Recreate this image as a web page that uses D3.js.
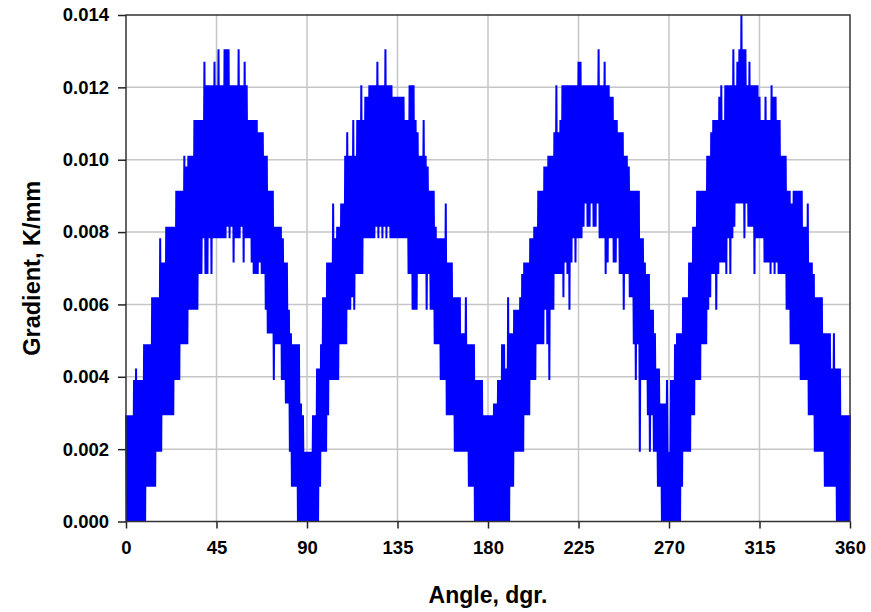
<!DOCTYPE html>
<html><head><meta charset="utf-8">
<script src="https://cdn.jsdelivr.net/npm/d3@7"></script>
<style>
html,body{margin:0;padding:0;background:#fff;}
svg{display:block;font-family:"Liberation Sans",Arial,sans-serif;font-weight:bold;}
</style>
</head><body>
<svg id="chart" width="871" height="612"></svg>
<script>
// ---------- data ----------
const xTicks = [0, 45, 90, 135, 180, 225, 270, 315, 360];
const yTicks = [0, 0.002, 0.004, 0.006, 0.008, 0.010, 0.012, 0.014];
const yTickLabels = ["0.000", "0.002", "0.004", "0.006", "0.008", "0.010", "0.012", "0.014"];
const xTitle = "Angle, dgr.";
const yTitle = "Gradient, K/mm";

// quantised gradient levels (K/mm) seen in the picture
const levels = [0, 0.00096, 0.00193, 0.00294, 0.00326, 0.00391, 0.00423, 0.00490, 0.00520,
  0.00585, 0.00620, 0.00684, 0.00716, 0.00783, 0.00815, 0.00879, 0.00914, 0.00981, 0.01011,
  0.01076, 0.01110, 0.01174, 0.01206, 0.01271, 0.01305, 0.01400];
const levelCodes = "0123456789abcdefghijklmnop";
const angleStep = 0.5; // degrees between samples

// one level code per sample, 20 samples per 10 degrees
const gradientCodes = [
  "30303030506050505070", // 0
  "717171a1a1a2a2d2c3c3", // 10
  "e3e3e3e3e5g5g5g7g7i7", // 20
  "h7i9i9i9k9k9kbkbkdnb", // 30
  "mbmdmbmdndmdodmdmdod", // 40
  "oeodmemcmdmdodmemcnd", // 50
  "mdkdkckbkbkbjcjbjbi9", // 60
  "i8g8g8g5e7e7e7e5d5c4", // 70
  "c4928171717070403020", // 80
  "2020203030606172a2a2", // 90
  "c3c5c5f5d5e5e7f7f7i7", // 100
  "j9i9iak9ibkbkbmbkdld", // 110
  "ldmdmdmdmendmemdmeod", // 120
  "memdmdldldldldldldkd", // 130
  "kbmbm9m9k9jbibibkbi9", // 140
  "hbg9g9g7e7d7d5d5d5f3", // 150
  "c3c3c3a2a2a2a28282a2", // 160
  "71717170505050503030", // 170
  "30303040405050707060", // 180
  "a08181929292a2b2c3c3", // 190
  "c3d5d5e5e7g7g7g7h9h7", // 200
  "i5i9i9jbmbjbkbmamcmb", // 210
  "m9mcmdmcmdndndmemfme", // 220
  "memfmememfodmdmdnbmc", // 230
  "mdldlckckdjbjbj9ibib", // 240
  "hagag7g5g7g2d5d5c5b3", // 250
  "b2939282616140404050", // 260
  "20505070808081a2a2a2", // 270
  "c2c3e3e5g5g5g7g7g7i9", // 280
  "iajbkbk9kblcmckcmbmd", // 290
  "mbmdoemfnfofpfodofme", // 300
  "nemembmdmdldkdkclckc", // 310
  "kbmclblckbkbibibi9g9", // 320
  "g7f7g7g7g7g5g5e5e5f3", // 330
  "c3c3b2a2a2a2a2818181", // 340
  "81618160606030303030", // 350
  "3"                     // 360
].join("");

const series = Array.from(gradientCodes).map((c, i) => ({
  angle: i * angleStep,
  value: levels[levelCodes.indexOf(c)]
}));

// ---------- layout ----------
const W = 871, H = 612;
const m = {left: 126, right: 21, top: 15, bottom: 90.5};
const iw = W - m.left - m.right, ih = H - m.top - m.bottom;

const svg = d3.select("#chart");
const g = svg.append("g").attr("transform", `translate(${m.left},${m.top})`);

const x = d3.scaleLinear().domain([0, 360]).range([0, iw]);
const y = d3.scaleLinear().domain([0, 0.014]).range([ih, 0]);

// gridlines
g.append("g").selectAll("line").data(xTicks.slice(1, -1)).join("line")
  .attr("x1", d => x(d)).attr("x2", d => x(d)).attr("y1", 0).attr("y2", ih)
  .attr("stroke", "#c6c6c6").attr("stroke-width", 1.5);
g.append("g").selectAll("line").data(yTicks.slice(1, -1)).join("line")
  .attr("y1", d => y(d)).attr("y2", d => y(d)).attr("x1", 0).attr("x2", iw)
  .attr("stroke", "#c6c6c6").attr("stroke-width", 1.5);

// data line
const line = d3.line().x(d => x(d.angle)).y(d => y(d.value));
g.append("path").datum(series)
  .attr("d", line)
  .attr("fill", "none")
  .attr("stroke", "#0000ff")
  .attr("stroke-width", 2)
  .attr("stroke-linejoin", "bevel");

// axes
const xAxis = d3.axisBottom(x).tickValues(xTicks).tickSize(7).tickPadding(12).tickFormat(d3.format("d"));
const yAxis = d3.axisLeft(y).tickValues(yTicks).tickSize(8).tickPadding(9)
  .tickFormat((d, i) => yTickLabels[i]);

const gx = g.append("g").attr("transform", `translate(0,${ih})`).call(xAxis);
const gy = g.append("g").call(yAxis);
[gx, gy].forEach(a => {
  a.select(".domain").remove();
  a.selectAll(".tick line").attr("stroke", "#222").attr("stroke-width", 1.5);
  a.selectAll(".tick text").attr("fill", "#000")
    .style("font-family", '"Liberation Sans", Arial, sans-serif')
    .style("font-weight", "bold").style("font-size", "18.5px");
});
gx.selectAll(".tick text").style("font-size", "18.5px");

// frame
g.append("rect").attr("x", 0).attr("y", 0).attr("width", iw).attr("height", ih)
  .attr("fill", "none").attr("stroke", "#333").attr("stroke-width", 1.5);

// titles
svg.append("text").attr("x", m.left + iw / 2).attr("y", 603)
  .attr("text-anchor", "middle").style("font-size", "23px").attr("fill", "#000")
  .text(xTitle);
svg.append("text")
  .attr("transform", `translate(40,${m.top + ih / 2}) rotate(-90)`)
  .attr("text-anchor", "middle").style("font-size", "23.5px").attr("fill", "#000")
  .text(yTitle);
</script>
</body></html>
